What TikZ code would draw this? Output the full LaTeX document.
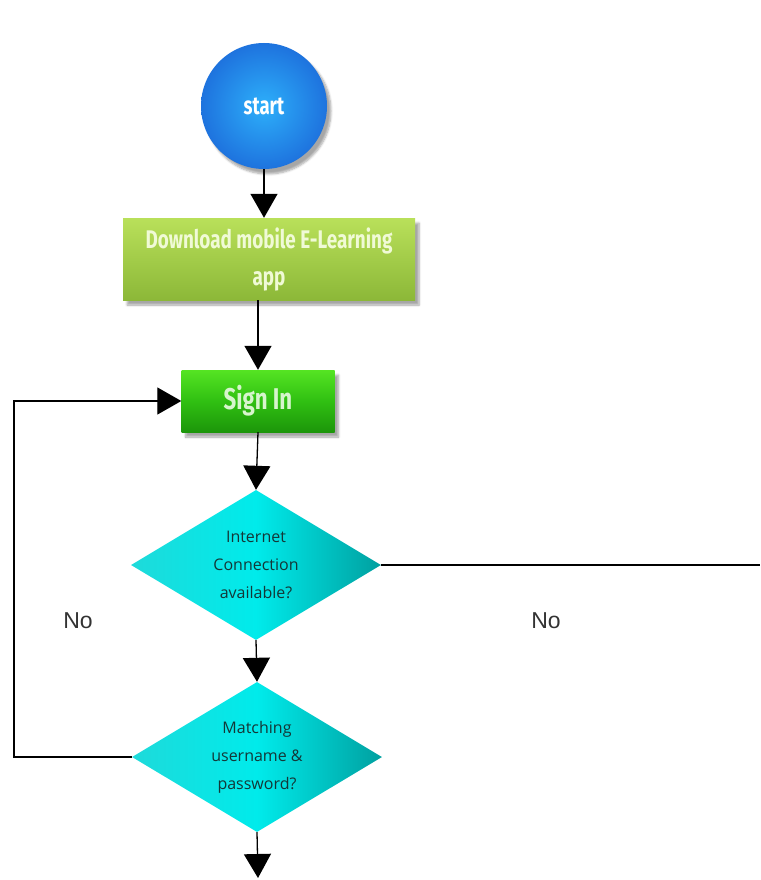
\documentclass[tikz,border=0pt]{standalone}
\usepackage{fontspec}
\setmainfont{Open Sans}
\newfontfamily\condfont[FakeStretch=0.74]{Fira Sans}
\newfontfamily\labelfont{Liberation Sans}
\usetikzlibrary{
    shapes.geometric,
    arrows.meta,
    shadows,
    shadows.blur,
    positioning
}
\definecolor{startlight}{RGB}{45,175,250}
\definecolor{startdark}{RGB}{30,115,222}
\definecolor{dllight}{RGB}{185,224,90}
\definecolor{dldark}{RGB}{140,184,56}
\definecolor{dltext}{RGB}{240,250,214}
\definecolor{signlight}{RGB}{85,228,35}
\definecolor{signmid}{RGB}{48,192,18}
\definecolor{signdark}{RGB}{28,150,10}
\definecolor{signtext}{RGB}{215,245,205}
\definecolor{decleft}{RGB}{30,218,218}
\definecolor{decmid}{RGB}{0,235,235}
\definecolor{decright}{RGB}{0,160,160}
\definecolor{dectext}{RGB}{20,55,55}
\tikzset{
    flowline/.style={line width=1.3pt},
    flowarrow/.style={flowline, -{Triangle[length=24pt, width=27pt]}},
    softshadow/.style={blur shadow={shadow xshift=4pt, shadow yshift=-5pt, shadow opacity=35, shadow blur steps=6}},
    startnode/.style={circle, minimum size=126pt, inner sep=0pt, softshadow,
        inner color=startlight, outer color=startdark, text=white,
        font=\condfont\bfseries\fontsize{25}{28}\selectfont},
    dlbox/.style={rectangle, minimum width=292pt, minimum height=82pt, inner sep=0pt, softshadow,
        top color=dllight, bottom color=dldark, text=dltext, align=center,
        font=\condfont\bfseries\fontsize{25.5}{37}\selectfont},
    signbox/.style={rectangle, minimum width=153pt, minimum height=62pt, inner sep=0pt, softshadow,
        top color=signlight, bottom color=signdark, middle color=signmid, text=signtext,
        font=\condfont\bfseries\fontsize{30}{32}\selectfont},
    decision/.style={diamond, aspect=1.667, minimum width=250pt, minimum height=150pt, inner sep=0pt,
        left color=decleft, right color=decright, middle color=decmid, text=dectext, align=center,
        font=\fontsize{16}{28}\selectfont},
    nolabel/.style={font=\labelfont\fontsize{23}{26}\selectfont, text=black!80}
}
\begin{document}
\begin{tikzpicture}[x=1pt, y=-1pt]
    \useasboundingbox (0, 0) rectangle (760, 880);
    % flow boxes
    \node[startnode] (start) at (264, 106) {start};
    \node[dlbox] (download) at (269, 259) {Download mobile E-Learning\\app};
    \node[signbox] (signin) at (258, 401) {Sign In};
    \node[decision] (internet) at (256, 565) {Internet\\Connection\\available?};
    \node[decision] (matching) at (257, 757) {Matching\\username \&\\password?};
    \coordinate (rightend) at (760, 565);
    \coordinate (loopcorner) at (14, 757);
    \coordinate (bottomend) at (258, 878);
    % connectors
    \draw[flowarrow] (start.south) -- (start.south |- download.north);
    \draw[flowarrow] (signin.north |- download.south) -- (signin.north);
    \draw[flowarrow] (signin.south) -- (internet.north);
    \draw[flowarrow] (internet.south) -- (matching.north);
    \draw[flowarrow] (matching.south) -- (bottomend);
    \draw[flowline] (internet.east) -- (rightend);
    \draw[flowarrow] (matching.west) -- (loopcorner) |- (signin.west);
    % labels
    \node[nolabel] (noleft) at (78, 621) {No};
    \node[nolabel] (noright) at (546, 621) {No};
\end{tikzpicture}
\end{document}
